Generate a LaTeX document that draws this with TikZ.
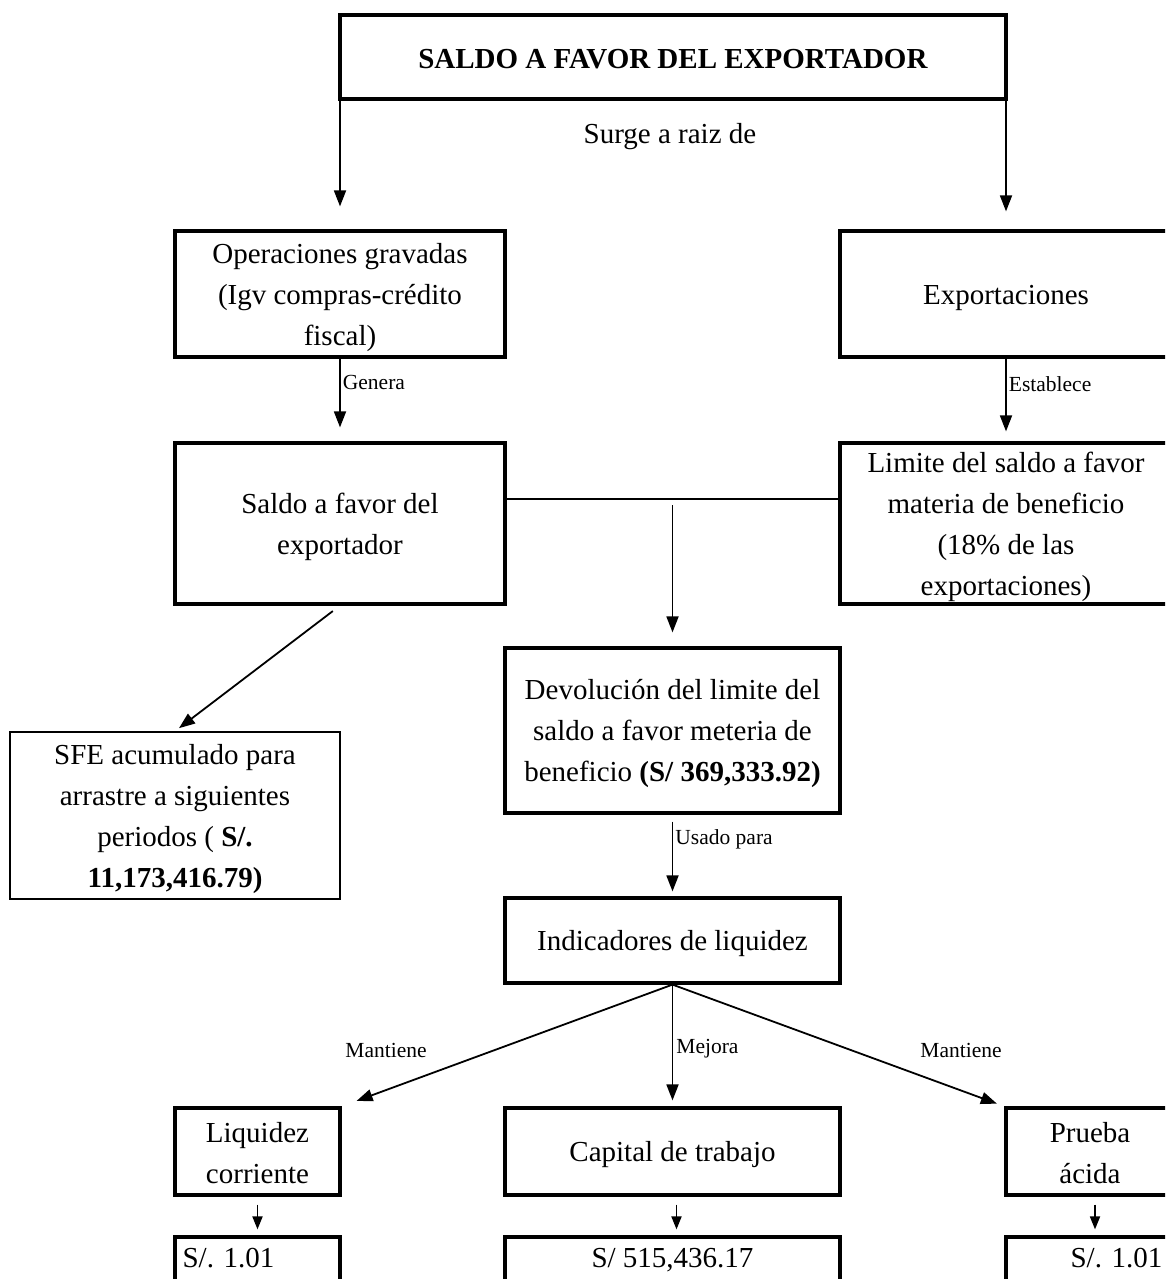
\documentclass[tikz,border=0pt]{standalone}
\usepackage{fontspec}
\setmainfont{Liberation Serif}
\usetikzlibrary{arrows.meta}
% struts that fix the height of a box's first line and the depth of its last
\newcommand\bxtop{\rule{0pt}{27pt}}
\newcommand\bxbot{\rule[-4pt]{0pt}{4pt}}
\begin{document}
\begin{tikzpicture}[x=1pt,y=-1pt,
  box/.style={draw, rectangle, line width=3.2pt, inner sep=0pt, align=center,
    font=\fontsize{29}{41}\selectfont},
  thinbox/.style={box, line width=1.6pt},
  txt/.style={inner sep=0pt, font=\fontsize{29}{41}\selectfont},
  lbl/.style={inner sep=0pt, font=\fontsize{21.5}{24}\selectfont},
  arr/.style={line width=1.8pt, -{Triangle[length=16pt,width=12pt]}},
  smallarr/.style={line width=1.8pt, -{Triangle[length=13pt,width=10pt]}},
  link/.style={line width=1.6pt}
]
\useasboundingbox (0,0) rectangle (1165,1279);
\clip (0,0) rectangle (1165,1279);

% boxes
\node[box, minimum width=666pt, minimum height=84pt] (top) at (673,57)
  {\bxtop\textbf{SALDO A FAVOR DEL EXPORTADOR}\bxbot};
\node[box, minimum width=330pt, minimum height=126pt] (ops) at (340,294)
  {\bxtop Operaciones gravadas\\(Igv compras-crédito\\fiscal)\bxbot};
\node[box, minimum width=332pt, minimum height=126pt] (exp) at (1006,294)
  {\bxtop Exportaciones\bxbot};
\node[box, minimum width=330pt, minimum height=161pt] (saldo) at (340,523.5)
  {\bxtop Saldo a favor del\\exportador\bxbot};
\node[box, minimum width=332pt, minimum height=161pt] (lim) at (1006,523.5)
  {\bxtop Limite del saldo a favor\\materia de beneficio\\(18\% de las\\exportaciones)\bxbot};
\node[box, minimum width=335pt, minimum height=165pt] (dev) at (672.5,730.5)
  {\bxtop Devolución del limite del\\saldo a favor meteria de\\beneficio \textbf{(S/ 369,333.92)}\bxbot};
\node[thinbox, minimum width=330pt, minimum height=167pt] (sfe) at (175,815.5)
  {\bxtop SFE acumulado para\\arrastre a siguientes\\periodos ( \textbf{S/.}\\\textbf{11,173,416.79)}\bxbot};
\node[box, minimum width=335pt, minimum height=85pt] (ind) at (672.5,940.5)
  {\bxtop Indicadores de liquidez\bxbot};
\node[box, minimum width=165pt, minimum height=87pt] (liq) at (257.5,1151.5)
  {\bxtop Liquidez\\corriente\bxbot};
\node[box, minimum width=335pt, minimum height=87pt] (cap) at (672.5,1151.5)
  {\bxtop Capital de trabajo\bxbot};
\node[box, minimum width=168pt, minimum height=87pt] (pru) at (1090,1151.5)
  {\bxtop Prueba\\ácida\bxbot};
\node[box, minimum width=165pt, minimum height=93pt] (v1) at (257.5,1283.5) {};
\node[box, minimum width=335pt, minimum height=93pt] (v2) at (672.5,1283.5) {};
\node[box, minimum width=168pt, minimum height=93pt] (v3) at (1090,1283.5) {};
\node[txt, anchor=west] (v1t) at ([xshift=9pt,yshift=-23pt]v1.north west) {S/. 1.01};
\node[txt] (v2t) at ([yshift=-25pt]v2.north) {S/ 515,436.17};
\node[txt, anchor=west] (v3t) at ([xshift=66pt,yshift=-23pt]v3.north west) {S/. 1.01};

% connectors
\node[txt] (surge) at (670,137) {Surge a raiz de};
\draw[arr, shorten >=23pt] (top.south -| ops.north) -- (ops.north);
\draw[arr, shorten >=18pt] (top.south -| exp.north) -- (exp.north);

\draw[arr, shorten >=14pt] (ops.south) -- node[lbl, anchor=west, xshift=2pt, pos=0.29] (gen) {Genera} (saldo.north);
\draw[arr, shorten >=10pt] (exp.south) -- node[lbl, anchor=west, xshift=2pt, pos=0.31] (est) {Establece} (lim.north);

\draw[link] ([yshift=24.5pt]saldo.east) -- coordinate[pos=0.5] (j) ([yshift=24.5pt]lim.west);
\draw[arr, shorten <=6pt, shorten >=14pt] (j) -- (j |- dev.north);

\draw[arr, shorten <=9pt, shorten >=5pt] (saldo.south) -- (sfe.north);

\draw[arr, shorten <=7pt, shorten >=5pt] (dev.south) -- node[lbl, anchor=west, xshift=2pt, pos=0.3] (usa) {Usado para} (ind.north);

\draw[arr, shorten >=16pt] (ind.south) -- (liq.north east);
\draw[arr, shorten >=6pt] (ind.south) -- node[lbl, anchor=west, xshift=3pt, pos=0.53] (mej) {Mejora} (cap.north);
\draw[arr, shorten >=8pt] (ind.south) -- (pru.north west);
\node[lbl] (man1) at (386,1050) {Mantiene};
\node[lbl] (man2) at (961,1050) {Mantiene};

\draw[smallarr, shorten <=8pt, shorten >=6pt] (liq.south) -- (v1.north);
\draw[smallarr, shorten <=8pt, shorten >=6pt] ([xshift=4pt]cap.south) -- ([xshift=4pt]v2.north);
\draw[smallarr, shorten <=8pt, shorten >=6pt] ([xshift=5pt]pru.south) -- ([xshift=5pt]v3.north);
\end{tikzpicture}
\end{document}
